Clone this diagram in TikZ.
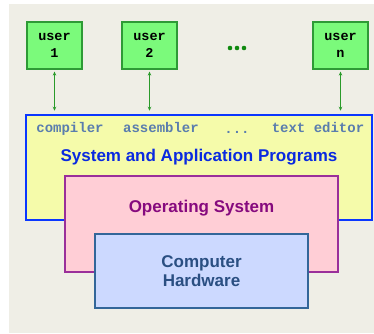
\documentclass[tikz,border=0pt]{standalone}
\usepackage{fontspec}
\setmainfont{Liberation Sans}
\setmonofont{Liberation Mono}
\usepackage{xcolor}
\usetikzlibrary{arrows.meta,positioning}

\definecolor{bgbeige}{HTML}{EFEEE6}
\definecolor{usrfill}{HTML}{7BFA7B}
\definecolor{usrline}{HTML}{2E9A36}
\definecolor{arrgreen}{HTML}{2A9A2A}
\definecolor{dotgreen}{HTML}{108A10}
\definecolor{sapfill}{HTML}{F5FBAA}
\definecolor{sapline}{HTML}{0A37FF}
\definecolor{saptext}{HTML}{0A2AE0}
\definecolor{toolblue}{HTML}{5A7DAE}
\definecolor{osfill}{HTML}{FFCED6}
\definecolor{osline}{HTML}{9A2F9A}
\definecolor{ostext}{HTML}{860A7E}
\definecolor{hwfill}{HTML}{CCD9FF}
\definecolor{hwline}{HTML}{336699}
\definecolor{hwtext}{HTML}{2A4F82}

\begin{document}
\begin{tikzpicture}[x=1pt, y=-1pt,
  user/.style={draw=usrline, fill=usrfill, line width=1.2pt, minimum width=55pt, minimum height=47pt,
    align=center, inner sep=0pt, font=\ttfamily\bfseries\fontsize{13.5}{16.5}\selectfont},
  layer/.style={inner sep=0pt},
  title/.style={anchor=base, font=\bfseries\fontsize{17}{19.5}\selectfont},
  tool/.style={anchor=base, text=toolblue, font=\ttfamily\bfseries\fontsize{14}{16}\selectfont},
  arr/.style={{Stealth[length=4pt,width=3.5pt]}-{Stealth[length=4pt,width=3.5pt]},
    draw=arrgreen, line width=1.1pt, shorten <=2pt, shorten >=3pt}]
\useasboundingbox (0,0) rectangle (374,333);
\fill[bgbeige] (9,4) rectangle (374,333);

% layers, outermost first
\node[layer, draw=sapline, fill=sapfill, line width=2.5pt, minimum width=346pt, minimum height=105pt] (sap) at (199,167.5) {};
\node[tool] (cmp) at (70,132) {compiler};
\node[tool] (asm) at (161,132) {assembler};
\node[tool] (tdots) at (237,133) {...};
\node[tool] (ted) at (318,132) {text editor};
\node[title, text=saptext] (saplbl) at (199,161) {System and Application Programs};

\node[layer, draw=osline, fill=osfill, line width=2pt, minimum width=273pt, minimum height=96pt] (os) at (201.5,224) {};
\node[title, text=ostext] (oslbl) at (201.5,212) {Operating System};

\node[layer, draw=hwline, fill=hwfill, line width=2.5pt, minimum width=213pt, minimum height=74pt,
  align=center, text=hwtext, font=\bfseries\fontsize{17}{19.5}\selectfont] (hw) at (201.5,271) {Computer\\Hardware};

% users
\node[user] (u1) at (54.5,45.5) {user\\1};
\node[user] (u2) at (149.5,45.5) {user\\2};
\node[user] (un) at (340.5,45.5) {user\\n};
\foreach \x in {230,237,244} \fill[dotgreen] (\x,48) circle (2.3pt);

\foreach \u in {u1,u2,un} \draw[arr] (\u.south) -- (\u.south |- sap.north);
\end{tikzpicture}
\end{document}
